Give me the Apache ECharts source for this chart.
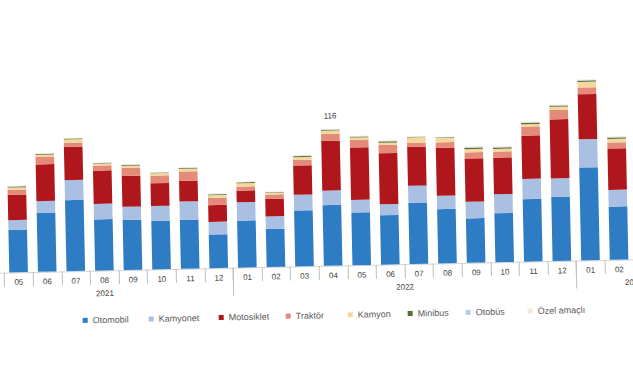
<!DOCTYPE html>
<html>
<head>
<meta charset="utf-8">
<script src="https://cdn.jsdelivr.net/npm/echarts@6/dist/echarts.min.js"></script>
<style>
html,body{margin:0;padding:0;background:#ffffff;overflow:hidden;width:633px;height:375px;}
#c{position:absolute;left:-26px;top:0;width:715px;height:375px;transform:rotate(-1.2deg);transform-origin:342.5px 187.5px;}
</style>
</head>
<body>
<div id="c"></div>
<script>
// Categories (first and last ones fall outside the visible crop, as in the reference)
const months = ['04','05','06','07','08','09','10','11','12','01','02','03','04','05','06','07','08','09','10','11','12','01','02','03','04'];
const years  = ['2021','2021','2021','2021','2021','2021','2021','2021','2021','2022','2022','2022','2022','2022','2022','2022','2022','2022','2022','2022','2022','2023','2023','2023','2023'];

// Values (thousand vehicles)
const otomobil   = [null,36.2,50.1,60.3,43.5,42.4,41.3,41.6,28.6,39.9,32.3,47.5,51.5,44.7,41.9,52.0,46.1,37.7,41.6,53.0,54.6,78.9,45.2,null,null];
const kamyonet   = [null, 8.2, 9.9,17.0,13.1,11.3,12.5,15.5,10.7,15.6,10.7,13.3,12.3,10.8, 9.3,14.4,11.3,14.1,16.1,17.2,15.6,24.0,14.2,null,null];
const motosiklet = [null,21.5,31.2,28.3,28.3,26.1,19.3,17.6,14.2, 9.8,14.8,24.9,42.2,44.4,43.3,33.1,40.7,36.8,31.1,36.8,50.1,38.2,35.1,null,null];
const traktor    = [null, 4.2, 6.5, 3.4, 4.2, 7.0, 6.5, 7.9, 6.2, 3.4, 3.7, 4.6, 5.9, 6.5, 7.0, 3.4, 4.6, 5.1, 5.1, 7.6, 7.9, 5.7, 5.1,null,null];
const kamyon     = [null, 2.0, 1.7, 2.9, 1.7, 1.7, 2.0, 2.3, 2.3, 2.9, 1.4, 2.5, 2.9, 2.0, 2.0, 4.6, 3.9, 2.8, 2.3, 2.0, 2.8, 4.8, 3.1,null,null];
const minibus    = [null, 0.7, 0.6, 0.6, 0.5, 0.6, 0.5, 0.7, 0.7, 0.7, 0.5, 0.8, 0.6, 0.7, 1.0, 0.3, 0.4, 1.1, 1.1, 1.1, 0.8, 1.0, 1.0,null,null];
const otobus     = [null, 0.3, 0.3, 0.2, 0.2, 0.3, 0.3, 0.3, 0.3, 0.3, 0.3, 0.4, 0.3, 0.3, 0.4, 0.1, 0.2, 0.5, 0.5, 0.5, 0.4, 0.4, 0.4,null,null];
const ozelAmacli = [null, 0.4, 0.3, 0.3, 0.2, 0.3, 0.3, 0.4, 0.4, 0.4, 0.3, 0.5, 0.3, 0.4, 0.6, 0.1, 0.2, 0.7, 0.7, 0.6, 0.5, 0.6, 0.6,null,null];
const topLabels  = ['','','','','','','','','','','','','116','','','','','','','','','','','',''];

const seriesNames = ['Otomobil','Kamyonet','Motosiklet','Traktör','Kamyon','Minibus','Otobüs','Özel amaçlı'];
const seriesData  = [otomobil,kamyonet,motosiklet,traktor,kamyon,minibus,otobus,ozelAmacli];
const colors      = ['#2e7cc4','#a9c0e2','#b0171c','#e48a78','#f5d79e','#56702f','#b8cce4','#f3ead8'];
const legendLeft  = [106,172,242,309,371,431,489,551];

const FONT = '"Liberation Sans", Arial, sans-serif';
const chart = echarts.init(document.getElementById('c'), null, {renderer:'svg'});

const series = seriesNames.map((n,i)=>({
  name:n, type:'bar', stack:'total', data:seriesData[i],
  barCategoryGap:'35%', itemStyle:{color:colors[i]},
  label: i===seriesNames.length-1 ? {
    show:true, position:'top', distance:9, fontSize:8, color:'#404040', fontFamily:FONT,
    formatter:p=>topLabels[p.dataIndex]
  } : {show:false}
}));

const legends = seriesNames.map((n,i)=>({
  data:[n], left:legendLeft[i], top:311, padding:0, itemWidth:5, itemHeight:5, itemGap:4,
  icon:'rect', textStyle:{fontSize:9, color:'#595959', fontFamily:FONT}, selectedMode:false
}));

chart.setOption({
  animation:false,
  backgroundColor:'#ffffff',
  grid:{left:0, right:0, top:30.4, bottom:109, containLabel:false},
  legend:legends,
  xAxis:{
    type:'category', data:months,
    axisLine:{show:true, lineStyle:{color:'#d4d4d4', width:1}},
    axisTick:{show:true, interval:0, length:14, lineStyle:{color:'#bfbfbf'}},
    axisLabel:{interval:0, fontSize:8, color:'#404040', margin:6, fontFamily:FONT,
      formatter:(v,idx)=> otomobil[idx]==null ? '' : v}
  },
  yAxis:{type:'value', min:0, max:200, show:false, splitLine:{show:false}},
  series:series
});

// Year group labels and separators, positioned through the axis scale
const xAt = i => chart.convertToPixel({xAxisIndex:0}, i);
const base = chart.convertToPixel({yAxisIndex:0}, 0);
const bandW = xAt(1) - xAt(0);
const graphics = [];
let start = 0;
for (let i=1;i<=years.length;i++){
  if (i===years.length || years[i]!==years[start]){
    const cx = (xAt(start)+xAt(i-1))/2;
    graphics.push({type:'text', x:cx, y:base+23, style:{text:years[start], fill:'#404040', font:'8px '+FONT, align:'center', verticalAlign:'middle'}});
    const lx = xAt(start)-bandW/2;
    graphics.push({type:'line', shape:{x1:lx,y1:base,x2:lx,y2:base+28}, style:{stroke:'#bfbfbf', lineWidth:1}});
    start = i;
  }
}
chart.setOption({graphic:graphics});
</script>
</body>
</html>
